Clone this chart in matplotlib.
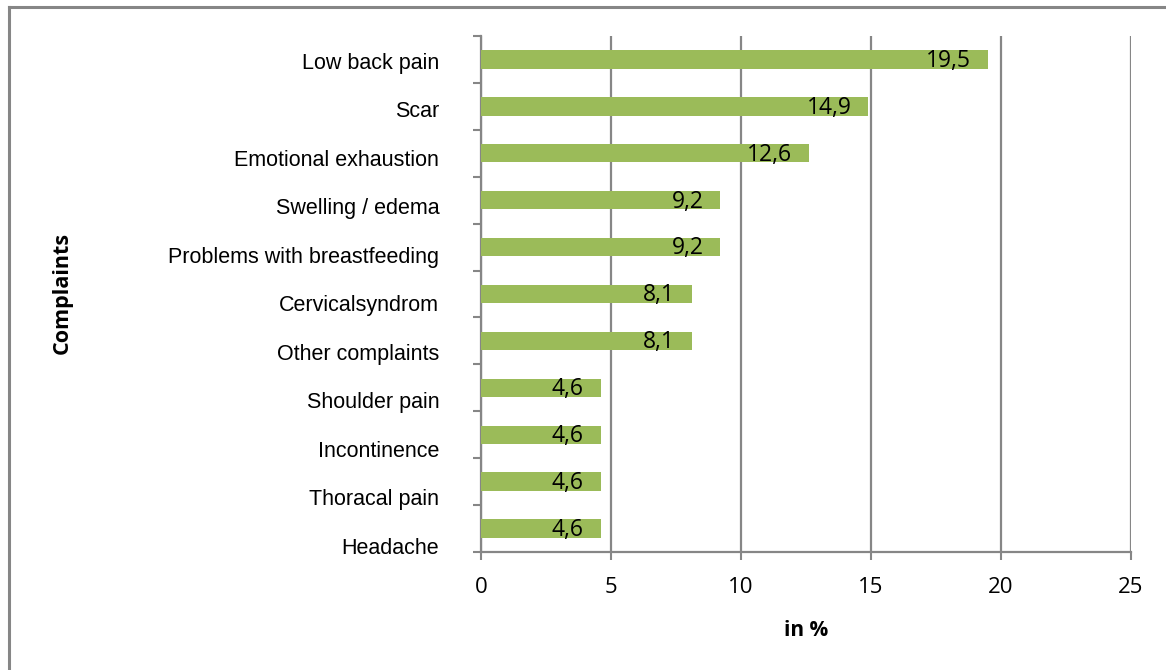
import matplotlib.pyplot as plt
from matplotlib.lines import Line2D
import numpy as np

complaints = ["Low back pain", "Scar", "Emotional exhaustion", "Swelling / edema",
              "Problems with breastfeeding", "Cervicalsyndrom", "Other complaints",
              "Shoulder pain", "Incontinence", "Thoracal pain", "Headache"]
percent = [19.5, 14.9, 12.6, 9.2, 9.2, 8.1, 8.1, 4.6, 4.6, 4.6, 4.6]
x_ticks = [0, 5, 10, 15, 20, 25]

grey = "#868686"
green = "#9BBB59"

fig = plt.figure(figsize=(11.66, 6.70), dpi=100)
ax = fig.add_axes([481 / 1166, 118 / 670, 650 / 1166, 516 / 670])

pos = np.arange(len(complaints))
ax.barh(pos, percent, height=0.39, color=green, zorder=3)

for p, v in zip(pos, percent):
    ax.annotate(f"{v:.1f}".replace(".", ","), xy=(v, p), xytext=(-12, -1),
                textcoords="offset points", ha="right", va="center",
                fontsize=16.5, family="Open Sans", zorder=4)

ax.set_xlim(0, 25)
ax.set_ylim(len(complaints) - 0.5, -0.5)
ax.set_xticks(x_ticks)
ax.set_xticklabels([str(t) for t in x_ticks], family="Open Sans", fontsize=16)
# category labels are spread a little wider than the bar bands
ax.set_yticks(pos * 1.034 + 0.03)
ax.set_yticklabels(complaints, family="Liberation Sans", fontsize=15.5)
ax.set_yticks(np.arange(len(complaints) + 1) - 0.5, minor=True)

ax.tick_params(axis="y", which="major", length=0, pad=30)
ax.tick_params(axis="y", which="minor", length=6, width=1.5, color=grey, direction="out")
ax.tick_params(axis="x", length=6, width=1.5, color=grey, pad=12)

ax.grid(axis="x", color=grey, linewidth=1.6, zorder=1)
for side in ("top", "right"):
    ax.spines[side].set_visible(False)
for side in ("left", "bottom"):
    ax.spines[side].set_color(grey)
    ax.spines[side].set_linewidth(1.6)

ax.set_xlabel("in %", family="Open Sans", fontweight="bold", fontsize=15, labelpad=16)
fig.text(62 / 1166, 0.5 + (670 / 2 - 293) / 670, "Complaints", rotation=90,
         ha="center", va="center", family="Open Sans", fontweight="bold", fontsize=15.5)

# outer frame (top and left edges)
fig.add_artist(Line2D([8.5 / 1166, 1], [1 - 6.5 / 670] * 2, color=grey, linewidth=2.2))
fig.add_artist(Line2D([8.5 / 1166] * 2, [0, 1 - 6.5 / 670], color=grey, linewidth=2.2))

fig.savefig("out.png", dpi=100, facecolor="white")
